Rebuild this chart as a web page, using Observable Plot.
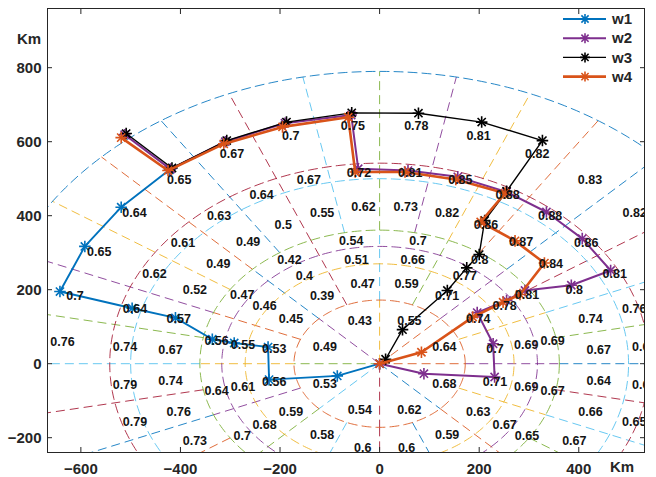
<!DOCTYPE html>
<html><head><meta charset="utf-8">
<script src="https://cdn.jsdelivr.net/npm/d3@7"></script>
<script src="https://cdn.jsdelivr.net/npm/@observablehq/plot@0.6"></script>
<style>
body{margin:0;background:#fff;}
#wrap{position:relative;width:656px;height:477px;font-family:"Liberation Sans",Arial,sans-serif;}
.km{position:absolute;font-weight:bold;font-size:15px;color:#262626;line-height:15px;}
#legend{position:absolute;left:556px;top:8px;}
</style></head><body><div id="wrap"></div>
<script>
// ---------- axis ticks ----------
const xTicks = [-600, -400, -200, 0, 200, 400];
const yTicks = [-200, 0, 200, 400, 600, 800];
const xDomain = [-667, 532];
const yDomain = [-240, 960];

// MATLAB colour order
const palette = ["#0072BD", "#D95319", "#EDB120", "#7E2F8E", "#77AC30", "#4DBEEE", "#A2142F"];

// ---------- polar grid (Km) ----------
const ringRadii = [172, 270, 317, 361, 500, 542, 790];
const sectorCounts = [8, 16, 16, 16, 32, 32, 32];
const labelRadii = [130, 226, 290, 344, 432, 524, 650];
// radial line groups: from ring index (-1 = centre) to ring index, number of spokes
const radialFrom = [-1, 0, 3];
const radialTo = [0, 3, 6];
const radialCounts = [8, 16, 32];

// cell values, sector 0 starts at angle 0 going counter-clockwise
const ring0Values = [0.64, 0.55, 0.43, 0.49, 0.53, 0.54, 0.62, 0.68];
const ring1Values = [0.7, 0.74, 0.71, 0.59, 0.47, 0.39, 0.45, 0.53, 0.56, 0.59, 0.58, 0.6, 0.6, 0.59, 0.63, 0.71];
const ring2Values = [0.69, 0.78, 0.77, 0.66, 0.51, 0.4, 0.46, 0.55, 0.61, 0.68, null, null, null, null, 0.67, 0.69];
const ring3Values = [0.69, 0.81, 0.8, 0.7, 0.54, 0.42, 0.47, 0.56, 0.64, 0.7, null, null, null, null, 0.65, 0.67];
const ring4Values = [0.67, 0.74, 0.8, 0.84, 0.87, 0.86, 0.82, 0.73, 0.62, 0.55, 0.5, 0.49, 0.49, 0.52, 0.57, 0.67,
  0.74, 0.76, 0.73, null, null, null, null, null, null, null, null, null, null, 0.67, 0.66, 0.64];
const ring5Values = [0.67, 0.76, 0.81, 0.86, 0.88, 0.88, 0.85, 0.81, 0.72, 0.67, 0.64, 0.63, 0.61, 0.62, 0.64, 0.74,
  0.79, 0.79, null, null, null, null, null, null, null, null, null, null, null, null, 0.65, 0.63];
const ring6Values = [null, null, null, 0.82, 0.83, 0.82, 0.81, 0.78, 0.75, 0.7, 0.67, 0.65, 0.64, 0.65, 0.7, 0.76,
  null, null, null, null, null, null, null, null, null, null, null, null, null, null, null, null];
const ringValues = [ring0Values, ring1Values, ring2Values, ring3Values, ring4Values, ring5Values, ring6Values];

// ---------- routes (Km) ----------
const seriesNames = ["w1", "w2", "w3", "w4"];
const w1X = [0, -85, -222, -224, -292, -336, -410, -497, -642, -592, -519, -422];
const w1Y = [0, -33, -43, 45, 56, 66, 124, 150, 195, 317, 423, 524];
const w2X = [0, 89, 231, 228, 196, 255, 292, 385, 464, 407, 335, 255, 157, 57, -43, -57, -190, -310, -420, -512];
const w2Y = [0, -27, -36, 54, 138, 171, 198, 212, 252, 338, 410, 464, 505, 522, 527, 672, 650, 600, 526, 619];
const w3X = [12, 46, 136, 175, 200, 211, 255, 327, 205, 78, -56, -187, -307, -417, -509];
const w3Y = [12, 92, 198, 259, 295, 387, 466, 603, 653, 677, 678, 653, 603, 529, 622];
const w4X = [0, 84, 187, 248, 282, 331, 272, 203, 252, 153, 51, -49, -63, -195, -313, -425, -519];
const w4Y = [0, 31, 126, 166, 187, 272, 332, 383, 461, 498, 518, 518, 666, 640, 594, 522, 611];
const seriesX = [w1X, w2X, w3X, w4X];
const seriesY = [w1Y, w2Y, w3Y, w4Y];
const seriesColors = ["#0072BD", "#7E2F8E", "#000000", "#D95319"];
const seriesWidths = [1.9, 2, 1.4, 2.6];

// ---------- build tables ----------
const rad = Math.PI / 180;
let colorCounter = 1; // colour order continues across all grid objects
const radials = [];
radialCounts.forEach((n, g) => {
  const r0 = radialFrom[g] < 0 ? 0 : ringRadii[radialFrom[g]];
  const r1 = ringRadii[radialTo[g]];
  for (let k = 1; k <= n; k++) {
    const a = k * 360 / n * rad;
    radials.push({x1: r0 * Math.cos(a), y1: r0 * Math.sin(a), x2: r1 * Math.cos(a), y2: r1 * Math.sin(a),
      color: palette[colorCounter % 7]});
    colorCounter++;
  }
});
const arcs = [];
ringRadii.forEach((r, i) => {
  const color = palette[colorCounter % 7];
  colorCounter++;
  for (let d = 0; d <= 360; d += 1) {
    arcs.push({ring: i, x: r * Math.cos(d * rad), y: r * Math.sin(d * rad), color});
  }
});
const labels = [];
ringValues.forEach((vals, i) => {
  const n = sectorCounts[i];
  vals.forEach((v, s) => {
    if (v == null) return;
    const a = (s + 0.5) * 360 / n * rad;
    labels.push({x: labelRadii[i] * Math.cos(a), y: labelRadii[i] * Math.sin(a), text: String(v)});
  });
});
const seriesRows = seriesNames.map((name, i) => seriesX[i].map((x, j) => ({series: name, x, y: seriesY[i][j]})));

// ---------- marks ----------
const dash = "9,5";
const marks = [
  Plot.link(radials, {x1: "x1", y1: "y1", x2: "x2", y2: "y2", stroke: "color", strokeWidth: 1, strokeOpacity: 0.85, strokeDasharray: dash, clip: true}),
  Plot.line(arcs, {x: "x", y: "y", z: "ring", stroke: "color", strokeWidth: 1, strokeOpacity: 0.85, strokeDasharray: dash, clip: true})
];
seriesRows.forEach((rows, i) => {
  marks.push(Plot.line(rows, {x: "x", y: "y", stroke: seriesColors[i], strokeWidth: seriesWidths[i], clip: true}));
  marks.push(Plot.dot(rows, {x: "x", y: "y", symbol: "plus", r: 3.8, stroke: seriesColors[i], strokeWidth: 1.6, fill: "none"}));
  marks.push(Plot.dot(rows, {x: "x", y: "y", symbol: "times", r: 3.8, stroke: seriesColors[i], strokeWidth: 1.6, fill: "none"}));
});
marks.push(Plot.text(labels, {x: "x", y: "y", text: "text", dx: 5, dy: 2, fontSize: 12.5, fontWeight: "bold", fill: "#141414", clip: true}));
marks.push(Plot.frame({stroke: "#262626", strokeWidth: 1}));
const axisStyle = {fontSize: 15, fontWeight: "bold", fill: "#262626", label: null};
marks.push(Plot.axisX({ticks: xTicks, anchor: "bottom", tickSize: 0, tickPadding: 11, ...axisStyle}));
marks.push(Plot.axisY({ticks: yTicks, anchor: "left", tickSize: 0, tickPadding: 6, ...axisStyle}));
marks.push(Plot.axisX({ticks: xTicks, anchor: "bottom", tickSize: 5, dy: -5, tickFormat: () => "", stroke: "#262626", label: null}));
marks.push(Plot.axisX({ticks: xTicks, anchor: "top", tickSize: 5, dy: 5, tickFormat: () => "", stroke: "#262626", label: null}));
marks.push(Plot.axisY({ticks: yTicks, anchor: "left", tickSize: 5, dx: 5, tickFormat: () => "", stroke: "#262626", label: null}));
marks.push(Plot.axisY({ticks: yTicks, anchor: "right", tickSize: 5, dx: -5, tickFormat: () => "", stroke: "#262626", label: null}));

const chart = Plot.plot({
  width: 656, height: 477,
  marginLeft: 47, marginRight: 12, marginTop: 8, marginBottom: 25,
  x: {domain: xDomain},
  y: {domain: yDomain},
  color: {type: "identity"},
  style: {fontFamily: "'Liberation Sans', Arial, sans-serif", background: "white"},
  marks
});
const wrap = document.getElementById("wrap");
wrap.appendChild(chart);

// axis unit labels
const km1 = document.createElement("div");
km1.className = "km"; km1.textContent = "Km"; km1.style.left = "17px"; km1.style.top = "31px";
wrap.appendChild(km1);
const km2 = document.createElement("div");
km2.className = "km"; km2.textContent = "Km"; km2.style.left = "610px"; km2.style.top = "459px";
wrap.appendChild(km2);

// legend
const ns = "http://www.w3.org/2000/svg";
const leg = document.createElementNS(ns, "svg");
leg.setAttribute("id", "legend");
leg.setAttribute("width", 88); leg.setAttribute("height", 80);
const star = "M-5,0H5M0,-5V5M-3.6,-3.6L3.6,3.6M-3.6,3.6L3.6,-3.6";
seriesNames.forEach((name, i) => {
  const cy = 11 + i * 19.2;
  const g = document.createElementNS(ns, "g");
  g.setAttribute("transform", `translate(0,${cy})`);
  g.innerHTML = `<line x1="7" x2="50" y1="0" y2="0" stroke="${seriesColors[i]}" stroke-width="${seriesWidths[i]}"/>
    <path d="${star}" transform="translate(29,0)" stroke="${seriesColors[i]}" stroke-width="1.6" fill="none"/>
    <text x="56" y="0" dy="0.35em" font-family="'Liberation Sans', Arial, sans-serif" font-size="15" font-weight="bold" fill="#262626">${name}</text>`;
  leg.appendChild(g);
});
wrap.appendChild(leg);
</script></body></html>
